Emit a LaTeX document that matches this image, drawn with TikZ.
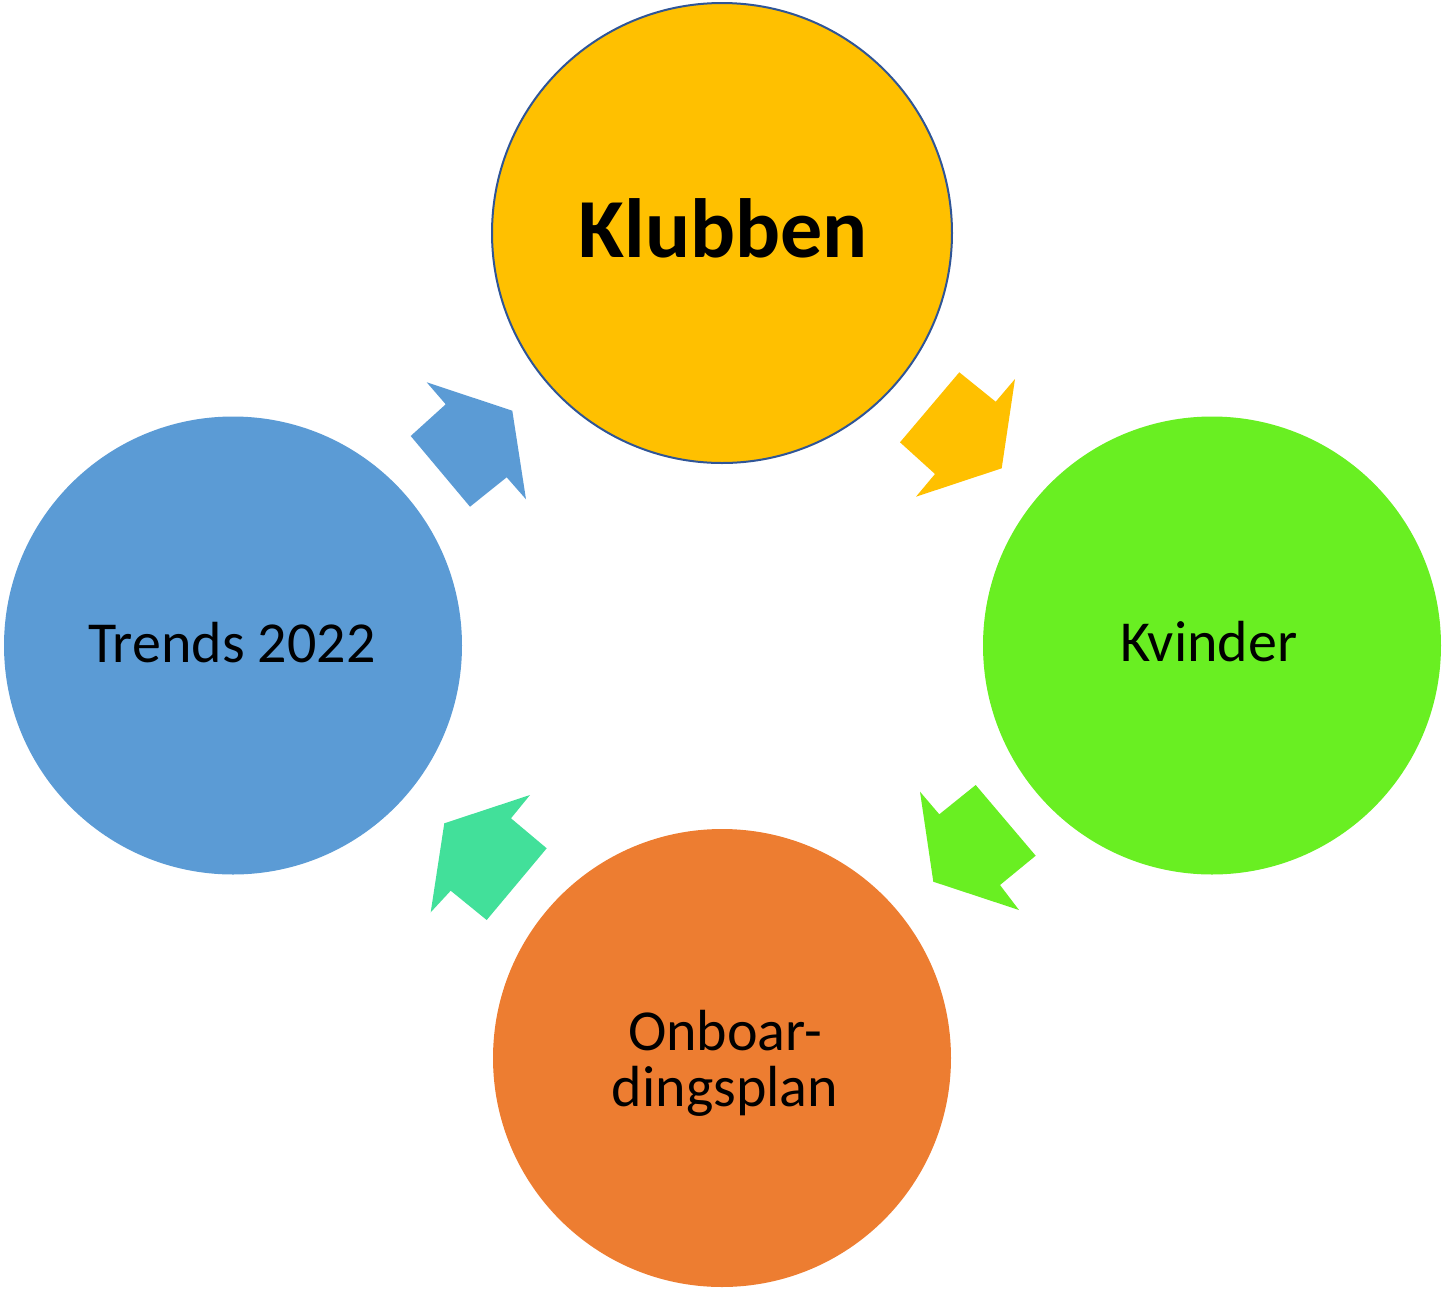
\documentclass[tikz,border=0pt]{standalone}
\usepackage{fontspec}
\setmainfont{Carlito}
\definecolor{cYellow}{HTML}{FFC000}
\definecolor{cGreen}{HTML}{69EF22}
\definecolor{cOrange}{HTML}{ED7D31}
\definecolor{cBlue}{HTML}{5B9BD5}
\definecolor{cTeal}{HTML}{42E09A}
\definecolor{cBorder}{HTML}{2F5597}
\begin{document}
\begin{tikzpicture}[x=0.5pt,y=-0.5pt,
  bubble/.style={circle,inner sep=0pt,outer sep=0pt,draw=none},
  lbl/.style={inner sep=0pt,outer sep=0pt,anchor=base,font=\fontsize{29pt}{28pt}\selectfont},
  blockarrow/.style={draw=none}]
\useasboundingbox (0,0) rectangle (1442,1291);
% circles
\node[bubble,fill=cYellow,draw=cBorder,line width=1pt,minimum size=230pt] (klubben) at (722,233) {};
\node[bubble,fill=cGreen,minimum size=229pt] (kvinder) at (1212,645.5) {};
\node[bubble,fill=cOrange,minimum size=229pt] (onboard) at (722,1058) {};
\node[bubble,fill=cBlue,minimum size=229pt] (trends) at (233,645.5) {};
% labels
\node[lbl,font=\fontsize{42pt}{44pt}\selectfont\bfseries] (tKlubben) at (723,257.3) {Klubben};
\node[lbl] (tKvinder) at (1209,661.7) {Kvinder};
\node[lbl] (tTrends) at (232,662.3) {Trends 2022};
\node[lbl,align=center] (tOnboard) at (725,1106.7) {Onboar-\\dingsplan};
% block arrows
\fill[blockarrow,cYellow] (959.3,372.3) -- (995.7,401.7) -- (1015,379) -- (1001.7,468.3) -- (916,496.7) -- (935,474) -- (900,442.3) -- cycle;
\fill[blockarrow,cGreen] (975.7,785) -- (1035.7,855.7) -- (1000,885) -- (1019,910) -- (933.3,881.7) -- (920,791.7) -- (939.3,814.3) -- cycle;
\fill[blockarrow,cTeal] (546.7,848.3) -- (486.7,920) -- (450.7,890.7) -- (430.7,912.3) -- (444.3,823.3) -- (530,795) -- (511,818.3) -- cycle;
\fill[blockarrow,cBlue] (470,506.7) -- (410.7,436) -- (445.7,404.3) -- (426.7,382.3) -- (512.3,410.7) -- (526,499.3) -- (506.7,477.3) -- cycle;
\end{tikzpicture}
\end{document}
